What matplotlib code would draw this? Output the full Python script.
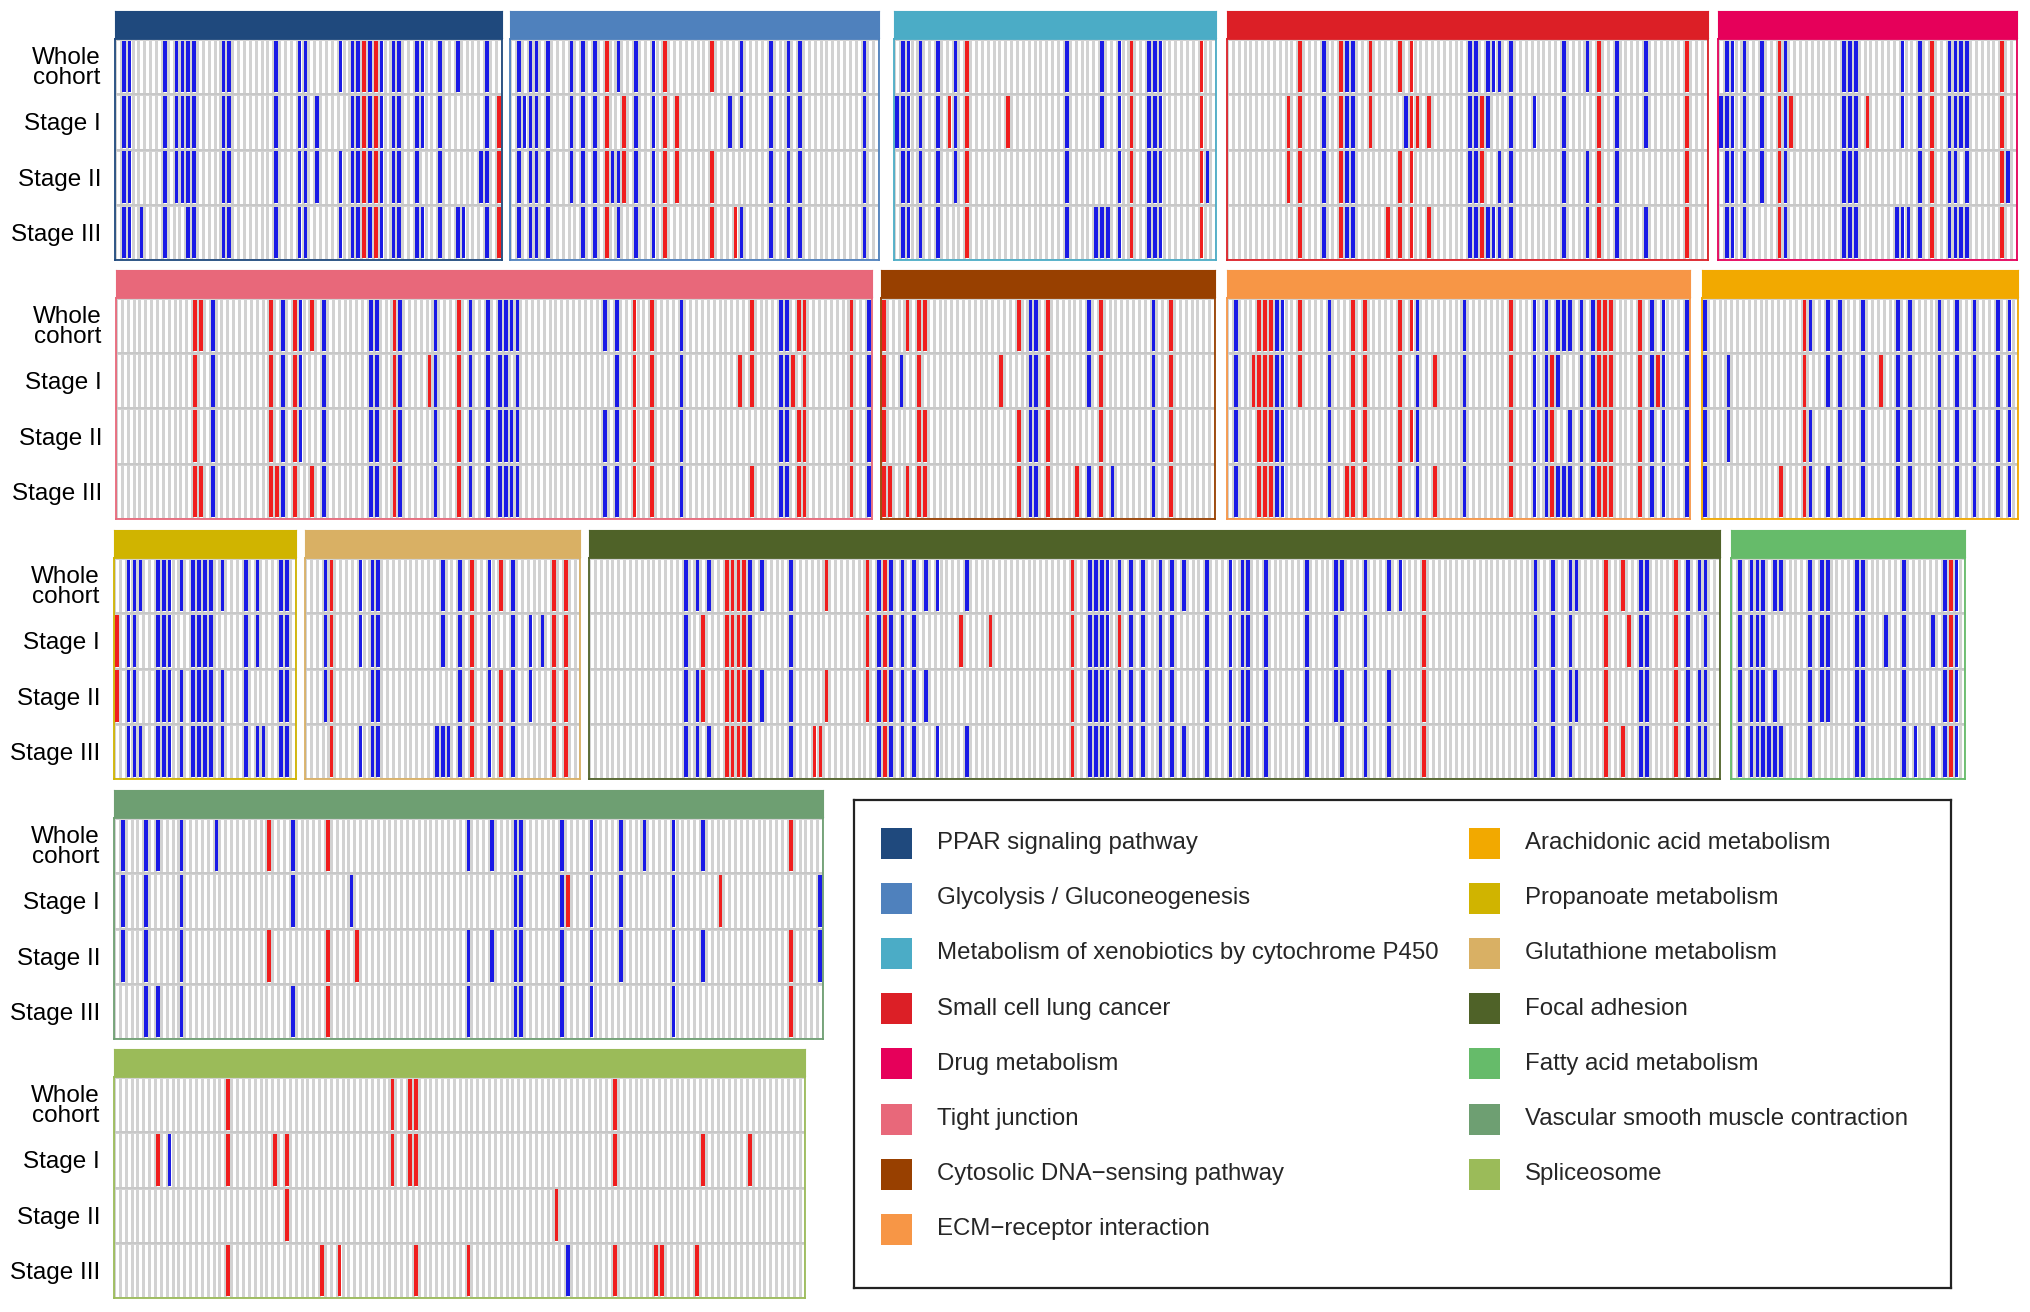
import numpy as np
import matplotlib.pyplot as plt
from matplotlib.colors import ListedColormap
from matplotlib.patches import Rectangle

plt.rcParams['font.family'] = ['Liberation Sans', 'DejaVu Sans']

row_labels = ['Whole\ncohort', 'Stage I', 'Stage II', 'Stage III']

pathways = ['PPAR signaling pathway', 'Glycolysis / Gluconeogenesis',
            'Metabolism of xenobiotics by cytochrome P450', 'Small cell lung cancer',
            'Drug metabolism', 'Tight junction', 'Cytosolic DNA\u2212sensing pathway',
            'ECM\u2212receptor interaction', 'Arachidonic acid metabolism',
            'Propanoate metabolism', 'Glutathione metabolism', 'Focal adhesion',
            'Fatty acid metabolism', 'Vascular smooth muscle contraction', 'Spliceosome']
pathway_colors = ['#1f497d', '#4f81bd', '#4bacc6', '#dc1f26', '#e6005a', '#e8687a',
                  '#984000', '#f79646', '#f2a900', '#d0b400', '#d9b064', '#4f6228',
                  '#66bb6a', '#6e9f72', '#9bbb59']
n_genes = [66, 63, 55, 82, 51, 129, 57, 79, 54, 31, 47, 193, 40, 121, 118]

# column indices of down (blue) / up (red) genes, one list per row
ppar_blue = [[1, 2, 8, 10, 11, 12, 13, 18, 19, 27, 31, 32, 38, 40, 41, 43, 45, 47, 48, 51, 52, 55, 58, 63],
             [1, 2, 8, 10, 11, 12, 13, 18, 19, 27, 31, 32, 34, 40, 41, 43, 45, 47, 48, 51, 52, 55, 63],
             [1, 2, 8, 10, 11, 12, 13, 18, 19, 27, 31, 32, 34, 38, 40, 41, 43, 45, 47, 48, 51, 55, 62, 63],
             [1, 2, 4, 8, 12, 13, 18, 19, 27, 31, 32, 38, 40, 41, 43, 45, 47, 48, 51, 52, 55, 58, 59, 63]]
ppar_red = [[42, 44], [42, 44, 65], [42, 44, 65], [42, 44, 65]]

glyco_blue = [[1, 3, 4, 6, 10, 12, 14, 18, 21, 24, 39, 44, 47, 49, 60],
              [1, 2, 3, 4, 6, 10, 12, 14, 21, 24, 37, 39, 44, 47, 49, 60],
              [1, 3, 4, 6, 10, 12, 14, 17, 18, 21, 24, 44, 47, 49, 60],
              [1, 3, 4, 6, 12, 14, 18, 21, 24, 39, 44, 47, 49, 60]]
glyco_red = [[16, 26, 34], [16, 19, 26, 28], [16, 19, 26, 28, 34], [16, 26, 34, 38]]

xeno_blue = [[1, 2, 4, 7, 10, 29, 35, 38, 43, 44, 45],
             [0, 1, 2, 4, 7, 10, 29, 35, 38, 43, 44, 45],
             [1, 2, 4, 7, 10, 29, 38, 43, 44, 45, 53],
             [1, 2, 4, 7, 29, 34, 35, 36, 38, 43, 44, 45]]
xeno_red = [[12, 40, 52], [9, 12, 19, 40, 52], [12, 40, 52], [12, 40, 52]]

sclc_blue = [[16, 20, 21, 41, 42, 44, 45, 46, 48, 57, 61, 66, 71],
             [16, 20, 21, 30, 41, 42, 44, 48, 52, 57, 66, 71],
             [16, 20, 21, 41, 42, 46, 48, 57, 61, 66],
             [16, 20, 21, 41, 42, 44, 45, 46, 48, 57, 61, 66, 71]]
sclc_red = [[12, 19, 24, 29, 31, 63, 78],
            [10, 12, 19, 24, 31, 32, 34, 43, 63, 78],
            [10, 12, 19, 29, 31, 43, 63, 78],
            [12, 19, 27, 29, 31, 34, 43, 63, 78]]

drug_blue = [[1, 2, 4, 7, 11, 21, 22, 23, 31, 34, 39, 40, 41, 42],
             [0, 1, 2, 4, 7, 11, 21, 22, 23, 31, 34, 39, 40, 41, 42],
             [1, 2, 4, 7, 11, 21, 22, 23, 34, 39, 40, 42, 49],
             [1, 2, 4, 11, 21, 22, 23, 30, 31, 32, 34, 39, 40, 41, 42]]
drug_red = [[10, 36, 48], [10, 12, 25, 36, 48], [10, 36, 48], [10, 36, 48]]

tight_blue = [[16, 28, 31, 35, 43, 44, 48, 54, 60, 63, 65, 66, 67, 68, 83, 85, 96, 113, 114, 128],
              [16, 28, 31, 35, 43, 44, 48, 54, 60, 63, 65, 66, 68, 85, 96, 113, 114, 128],
              [16, 28, 31, 35, 43, 44, 48, 54, 60, 63, 65, 66, 67, 68, 83, 85, 96, 113, 114, 128],
              [16, 28, 35, 43, 44, 48, 54, 60, 63, 65, 66, 67, 68, 83, 85, 96, 113, 114, 128]]
tight_red = [[13, 14, 26, 30, 33, 47, 58, 88, 91, 108, 116, 117, 125],
             [13, 26, 30, 47, 53, 58, 88, 91, 106, 108, 115, 117, 125],
             [13, 26, 30, 47, 58, 88, 91, 116, 117, 125],
             [13, 14, 26, 27, 30, 33, 47, 58, 88, 91, 108, 116, 117, 125]]

cyto_blue = [[25, 26, 35, 46], [3, 25, 26, 35, 46], [25, 26, 46], [25, 26, 35, 39, 46]]
cyto_red = [[0, 4, 6, 7, 23, 28, 37, 49],
            [0, 6, 20, 28, 37, 49],
            [0, 6, 7, 23, 28, 37, 49],
            [0, 1, 4, 6, 7, 23, 28, 33, 37, 49]]

ecm_blue = [[1, 8, 9, 17, 32, 40, 52, 54, 56, 57, 58, 60, 62, 72, 74, 78],
            [1, 8, 9, 17, 32, 40, 52, 54, 56, 60, 62, 72, 74, 78],
            [1, 8, 9, 17, 32, 40, 52, 54, 58, 60, 62, 72, 74, 78],
            [1, 8, 9, 17, 32, 40, 52, 54, 56, 57, 58, 60, 62, 72, 74, 78]]
ecm_red = [[5, 6, 7, 12, 21, 23, 29, 31, 48, 63, 64, 65, 70],
           [4, 5, 6, 7, 12, 21, 23, 29, 35, 48, 55, 63, 64, 65, 70, 73],
           [5, 6, 7, 21, 23, 29, 31, 48, 55, 63, 64, 65, 70],
           [5, 6, 7, 20, 21, 23, 29, 35, 48, 55, 63, 64, 65, 70]]

arach_blue = [[0, 18, 21, 23, 27, 33, 35, 40, 43, 46, 50, 52],
              [0, 4, 21, 23, 27, 33, 35, 40, 43, 46, 50, 52],
              [0, 4, 18, 23, 27, 33, 35, 40, 43, 46, 50, 52],
              [0, 18, 21, 23, 27, 33, 35, 40, 43, 46, 50, 52]]
arach_red = [[17], [17, 30], [17], [13, 17]]

prop_blue = [[2, 3, 4, 7, 8, 9, 11, 13, 14, 15, 16, 18, 22, 24, 28, 29],
             [2, 3, 7, 8, 9, 13, 14, 15, 16, 22, 24, 28, 29],
             [2, 3, 7, 8, 9, 11, 13, 14, 15, 16, 18, 22, 28, 29],
             [2, 3, 4, 7, 8, 9, 11, 13, 14, 15, 16, 18, 22, 24, 25, 28, 29]]
prop_red = [[], [0], [0], []]

glut_blue = [[3, 9, 11, 12, 23, 26, 31, 35],
             [3, 9, 11, 12, 23, 26, 31, 35, 38, 40],
             [3, 11, 12, 26, 31, 35, 38],
             [9, 11, 12, 22, 23, 24, 26, 31, 35]]
glut_red = [[4, 28, 33, 42, 44], [4, 28, 42, 44], [4, 28, 33, 42, 44], [4, 28, 33, 42, 44]]

focal_blue = [[16, 18, 20, 27, 29, 34, 49, 51, 53, 55, 57, 59, 64, 85, 86, 87, 88, 90, 92, 94, 97, 99,
               101, 105, 109, 111, 112, 115, 122, 127, 128, 132, 136, 138, 161, 164, 167, 168, 179,
               180, 187, 189, 190],
              [16, 27, 34, 49, 51, 53, 55, 85, 86, 87, 88, 92, 94, 97, 99, 105, 109, 111, 112, 115,
               122, 127, 132, 161, 164, 167, 179, 180, 187, 190],
              [16, 18, 27, 29, 34, 49, 51, 53, 55, 57, 85, 86, 87, 88, 90, 92, 94, 97, 99, 105, 109,
               111, 112, 115, 122, 127, 128, 132, 136, 161, 164, 167, 168, 179, 180, 187, 189, 190],
              [16, 18, 20, 27, 34, 49, 51, 53, 55, 59, 64, 85, 86, 87, 88, 90, 92, 94, 97, 99, 101,
               105, 109, 111, 112, 115, 122, 128, 132, 136, 161, 164, 167, 179, 180, 187, 189, 190]]
focal_red = [[23, 24, 25, 26, 40, 47, 50, 82, 142, 173, 176, 185],
             [19, 23, 24, 25, 26, 47, 50, 63, 68, 82, 90, 142, 173, 177, 185],
             [19, 23, 24, 25, 26, 40, 47, 50, 82, 142, 173, 185],
             [23, 24, 25, 26, 38, 39, 50, 82, 142, 173, 176, 185]]

fatty_blue = [[1, 3, 4, 5, 7, 8, 13, 15, 16, 21, 22, 29, 36, 38],
              [1, 3, 4, 5, 13, 15, 16, 21, 22, 26, 29, 34, 36, 38],
              [1, 3, 4, 5, 7, 13, 15, 16, 21, 22, 29, 36, 38],
              [1, 3, 4, 5, 6, 7, 8, 13, 21, 22, 29, 31, 34, 36, 38]]
fatty_red = [[37], [37], [37], [37]]

vasc_blue = [[1, 5, 7, 11, 17, 30, 60, 64, 68, 69, 76, 81, 86, 90, 95, 100],
             [1, 5, 11, 30, 40, 68, 69, 76, 81, 86, 95, 120],
             [1, 5, 11, 60, 64, 68, 69, 76, 81, 86, 95, 100, 120],
             [5, 7, 11, 30, 60, 68, 69, 76, 81, 95]]
vasc_red = [[26, 36, 115], [77, 103], [26, 36, 41, 115], [36, 115]]

splice_blue = [[], [9], [], [77]]
splice_red = [[19, 47, 50, 51, 85],
              [7, 19, 27, 29, 47, 50, 51, 85, 100, 108],
              [29, 75],
              [19, 35, 38, 51, 60, 85, 92, 93, 99]]

blue_sets = [ppar_blue, glyco_blue, xeno_blue, sclc_blue, drug_blue, tight_blue, cyto_blue,
             ecm_blue, arach_blue, prop_blue, glut_blue, focal_blue, fatty_blue, vasc_blue, splice_blue]
red_sets = [ppar_red, glyco_red, xeno_red, sclc_red, drug_red, tight_red, cyto_red,
            ecm_red, arach_red, prop_red, glut_red, focal_red, fatty_red, vasc_red, splice_red]

# layout (pixels)
W, H = 2031, 1312
panel_rows = [[0, 1, 2, 3, 4], [5, 6, 7, 8], [9, 10, 11, 12], [13], [14]]
panel_x = [[115, 510, 894, 1227, 1718], [116, 881, 1227, 1702], [114, 305, 589, 1731], [114], [114]]
row_top = [11, 270, 530, 790, 1049]
cw = 5.86
head_h = 27
grid_h = 221

fig = plt.figure(figsize=(W / 100, H / 100), dpi=100)


def px_axes(x, y, w, h):
    return fig.add_axes([x / W, 1 - (y + h) / H, w / W, h / H])


def draw_panel(x0, y0, k):
    n = n_genes[k]
    col = pathway_colors[k]
    head = px_axes(x0, y0, n * cw, head_h)
    head.set_facecolor(col)
    head.set_xticks([])
    head.set_yticks([])
    for s in head.spines.values():
        s.set_color(col)

    ax = px_axes(x0, y0 + head_h + 1, n * cw, grid_h)
    ax.pcolormesh(np.arange(n + 1) - 0.5, np.arange(5) - 0.5, np.zeros((4, n)),
                  cmap=ListedColormap(['white']), edgecolors='#d2d2d2', linewidth=0.8)
    for r in range(4):
        ax.bar(blue_sets[k][r], 0.93, bottom=r - 0.465, width=0.62, color='#1a1ae6', linewidth=0)
        ax.bar(red_sets[k][r], 0.93, bottom=r - 0.465, width=0.62, color='#f01e1e', linewidth=0)
    for yy in [0.5, 1.5, 2.5]:
        ax.axhline(yy, color='#c8c8c8', lw=1.4)
    ax.set_xlim(-0.5, n - 0.5)
    ax.set_ylim(3.5, -0.5)
    ax.set_xticks([])
    ax.set_yticks([])
    for s in ax.spines.values():
        s.set_color(col)
        s.set_linewidth(1.3)
    return ax


for ri, ks in enumerate(panel_rows):
    for j, k in enumerate(ks):
        ax = draw_panel(panel_x[ri][j], row_top[ri], k)
        if j == 0:
            ax.set_yticks(range(4))
            ax.set_yticklabels(row_labels, fontsize=17.5, multialignment='center', linespacing=0.85)
            ax.tick_params(axis='y', length=0, pad=10)

# legend
lx, ly, lw_, lh = 854, 800, 1097, 488
leg = px_axes(lx, ly, lw_, lh)
leg.set_xlim(0, lw_)
leg.set_ylim(lh, 0)
leg.set_xticks([])
leg.set_yticks([])
for s in leg.spines.values():
    s.set_color('#222222')
    s.set_linewidth(1.6)
for i, (name, c) in enumerate(zip(pathways, pathway_colors)):
    cx = 27 + (i // 8) * 588
    cy = 43 + (i % 8) * 55.2
    leg.add_patch(Rectangle((cx, cy - 15.5), 31, 31, facecolor=c, edgecolor='none'))
    leg.text(cx + 56, cy, name, fontsize=17.3, va='center', ha='left', color='#262626')

fig.savefig('out.png', dpi=100)
